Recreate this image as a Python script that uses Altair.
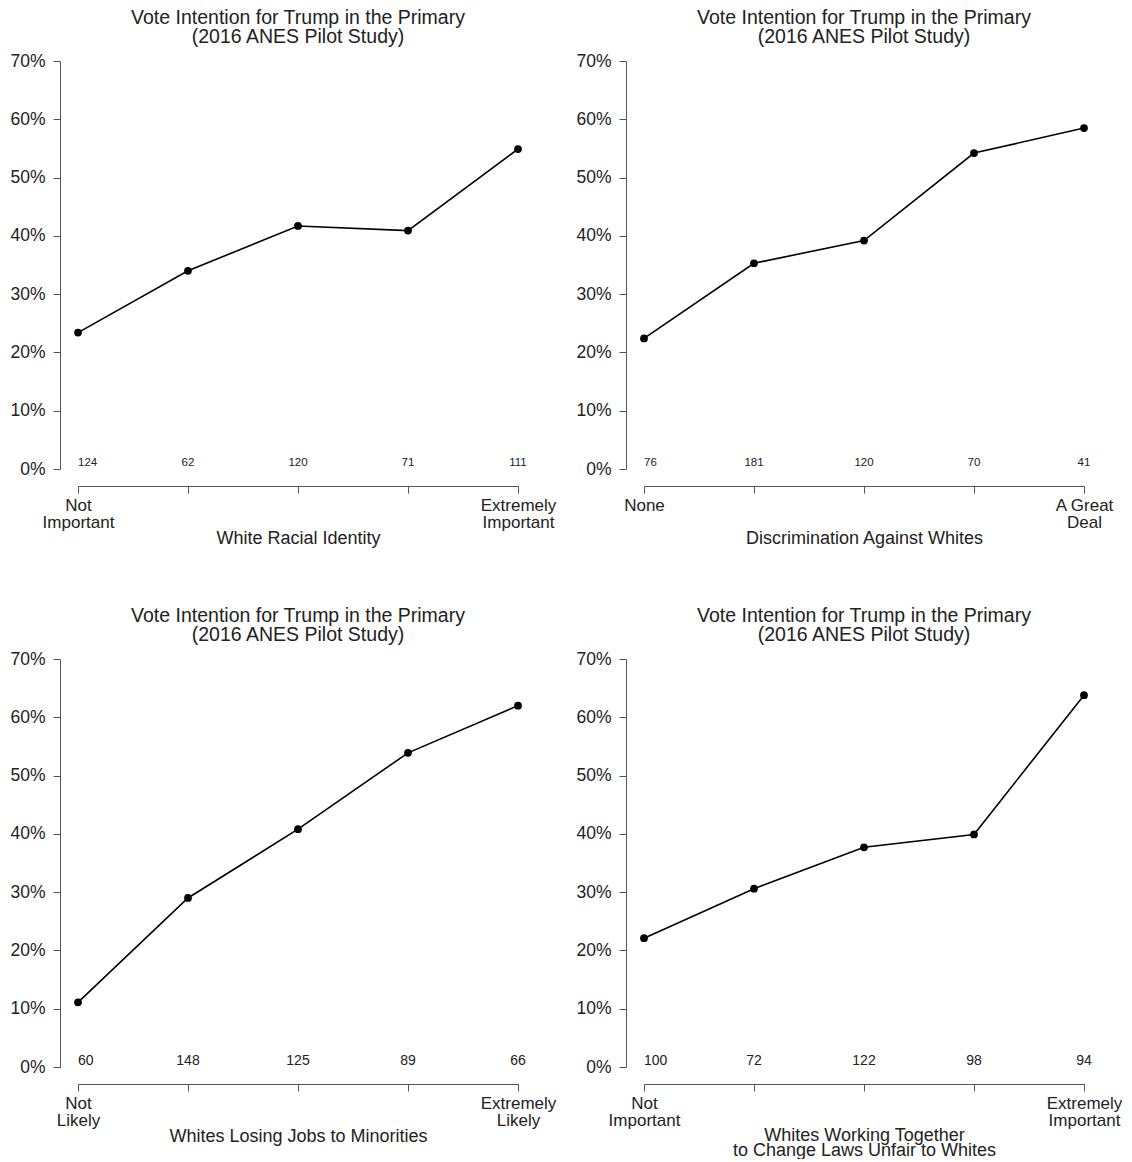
import altair as alt
import pandas as pd

levels = [1, 2, 3, 4, 5]

wri_pct = [23.4, 34.0, 41.7, 40.9, 54.9]
wri_n = [124, 62, 120, 71, 111]

daw_pct = [22.4, 35.3, 39.2, 54.2, 58.5]
daw_n = [76, 181, 120, 70, 41]

wlj_pct = [11.1, 29.0, 40.8, 53.9, 62.0]
wlj_n = [60, 148, 125, 89, 66]

wwt_pct = [22.1, 30.6, 37.7, 39.9, 63.8]
wwt_n = [100, 72, 122, 98, 94]

y_ticks = [0, 10, 20, 30, 40, 50, 60, 70]
main_title = ["Vote Intention for Trump in the Primary", "(2016 ANES Pilot Study)"]

FONT = "Liberation Sans"
TXT = "#222222"
AX = "#555555"


def js_list(lines):
    return "[" + ",".join("'" + s + "'" for s in lines) + "]"


def panel(pct, n, xtitle, lo, hi, count_size):
    df = pd.DataFrame({"x": levels, "pct": pct, "n": n})
    base = alt.Chart(df)
    label_expr = (
        f"datum.value == 1 ? {js_list(lo)} : datum.value == 5 ? {js_list(hi)} : ''"
    )
    multi = isinstance(xtitle, list)
    xenc = alt.X(
        "x:Q",
        scale=alt.Scale(domain=[1, 5], nice=False, zero=False),
        axis=alt.Axis(
            values=levels,
            labelExpr=label_expr,
            title=xtitle,
            offset=17,
            grid=False,
            tickSize=7,
            tickColor=AX,
            domainColor=AX,
            labelFont=FONT,
            labelFontSize=17,
            labelColor=TXT,
            labelLineHeight=17,
            labelPadding=4,
            labelOverlap=False,
            labelFlush=False,
            labelBaseline="top",
            titleFont=FONT,
            titleFontSize=18,
            titleFontWeight="normal",
            titleColor=TXT,
            titleLineHeight=15,
            titleBaseline="top",
            titleY=43 if not multi else 42,
        ),
    )
    yenc = alt.Y(
        "pct:Q",
        scale=alt.Scale(domain=[0, 70], nice=False),
        axis=alt.Axis(
            values=y_ticks,
            labelExpr="datum.value + '%'",
            title=None,
            offset=18,
            grid=False,
            tickSize=7,
            tickColor=AX,
            domainColor=AX,
            labelFont=FONT,
            labelFontSize=17.5,
            labelColor=TXT,
            labelPadding=8,
            labelOverlap=False,
            labelFlush=False,
        ),
    )
    line = base.mark_line(color="black", strokeWidth=1.6).encode(x=xenc, y=yenc)
    pts = base.mark_circle(color="black", size=60, opacity=1).encode(x="x:Q", y="pct:Q")
    first = base.transform_filter("datum.x == 1").mark_text(
        align="left", baseline="middle", dy=-6, font=FONT, fontSize=count_size, color=TXT
    ).encode(x="x:Q", y=alt.datum(0), text="n:Q")
    rest = base.transform_filter("datum.x > 1").mark_text(
        align="center", baseline="middle", dy=-6, font=FONT, fontSize=count_size, color=TXT
    ).encode(x="x:Q", y=alt.datum(0), text="n:Q")
    return alt.layer(line, pts, first, rest).properties(
        width=440,
        height=408,
        title=alt.TitleParams(
            main_title,
            font=FONT,
            fontSize=19.5,
            fontWeight="normal",
            color=TXT,
            lineHeight=19,
            frame="group",
            anchor="middle",
            offset=5,
        ),
    )


p1 = panel(wri_pct, wri_n, "White Racial Identity", ["Not", "Important"], ["Extremely", "Important"], 11.5)
p2 = panel(daw_pct, daw_n, "Discrimination Against Whites", ["None"], ["A Great", "Deal"], 11.5)
p3 = panel(wlj_pct, wlj_n, "Whites Losing Jobs to Minorities", ["Not", "Likely"], ["Extremely", "Likely"], 14)
p4 = panel(
    wwt_pct,
    wwt_n,
    ["Whites Working Together", "to Change Laws Unfair to Whites"],
    ["Not", "Important"],
    ["Extremely", "Important"],
    14,
)

chart = (
    alt.concat(p1, p2, p3, p4, columns=2, spacing={"row": 190, "column": 126}, bounds="flush")
    .properties(padding={"left": 1, "top": -1, "right": 0, "bottom": 0}, background="white")
    .configure_view(stroke=None)
)

chart.save("out.html", embed_options={"renderer": "svg", "actions": False})
